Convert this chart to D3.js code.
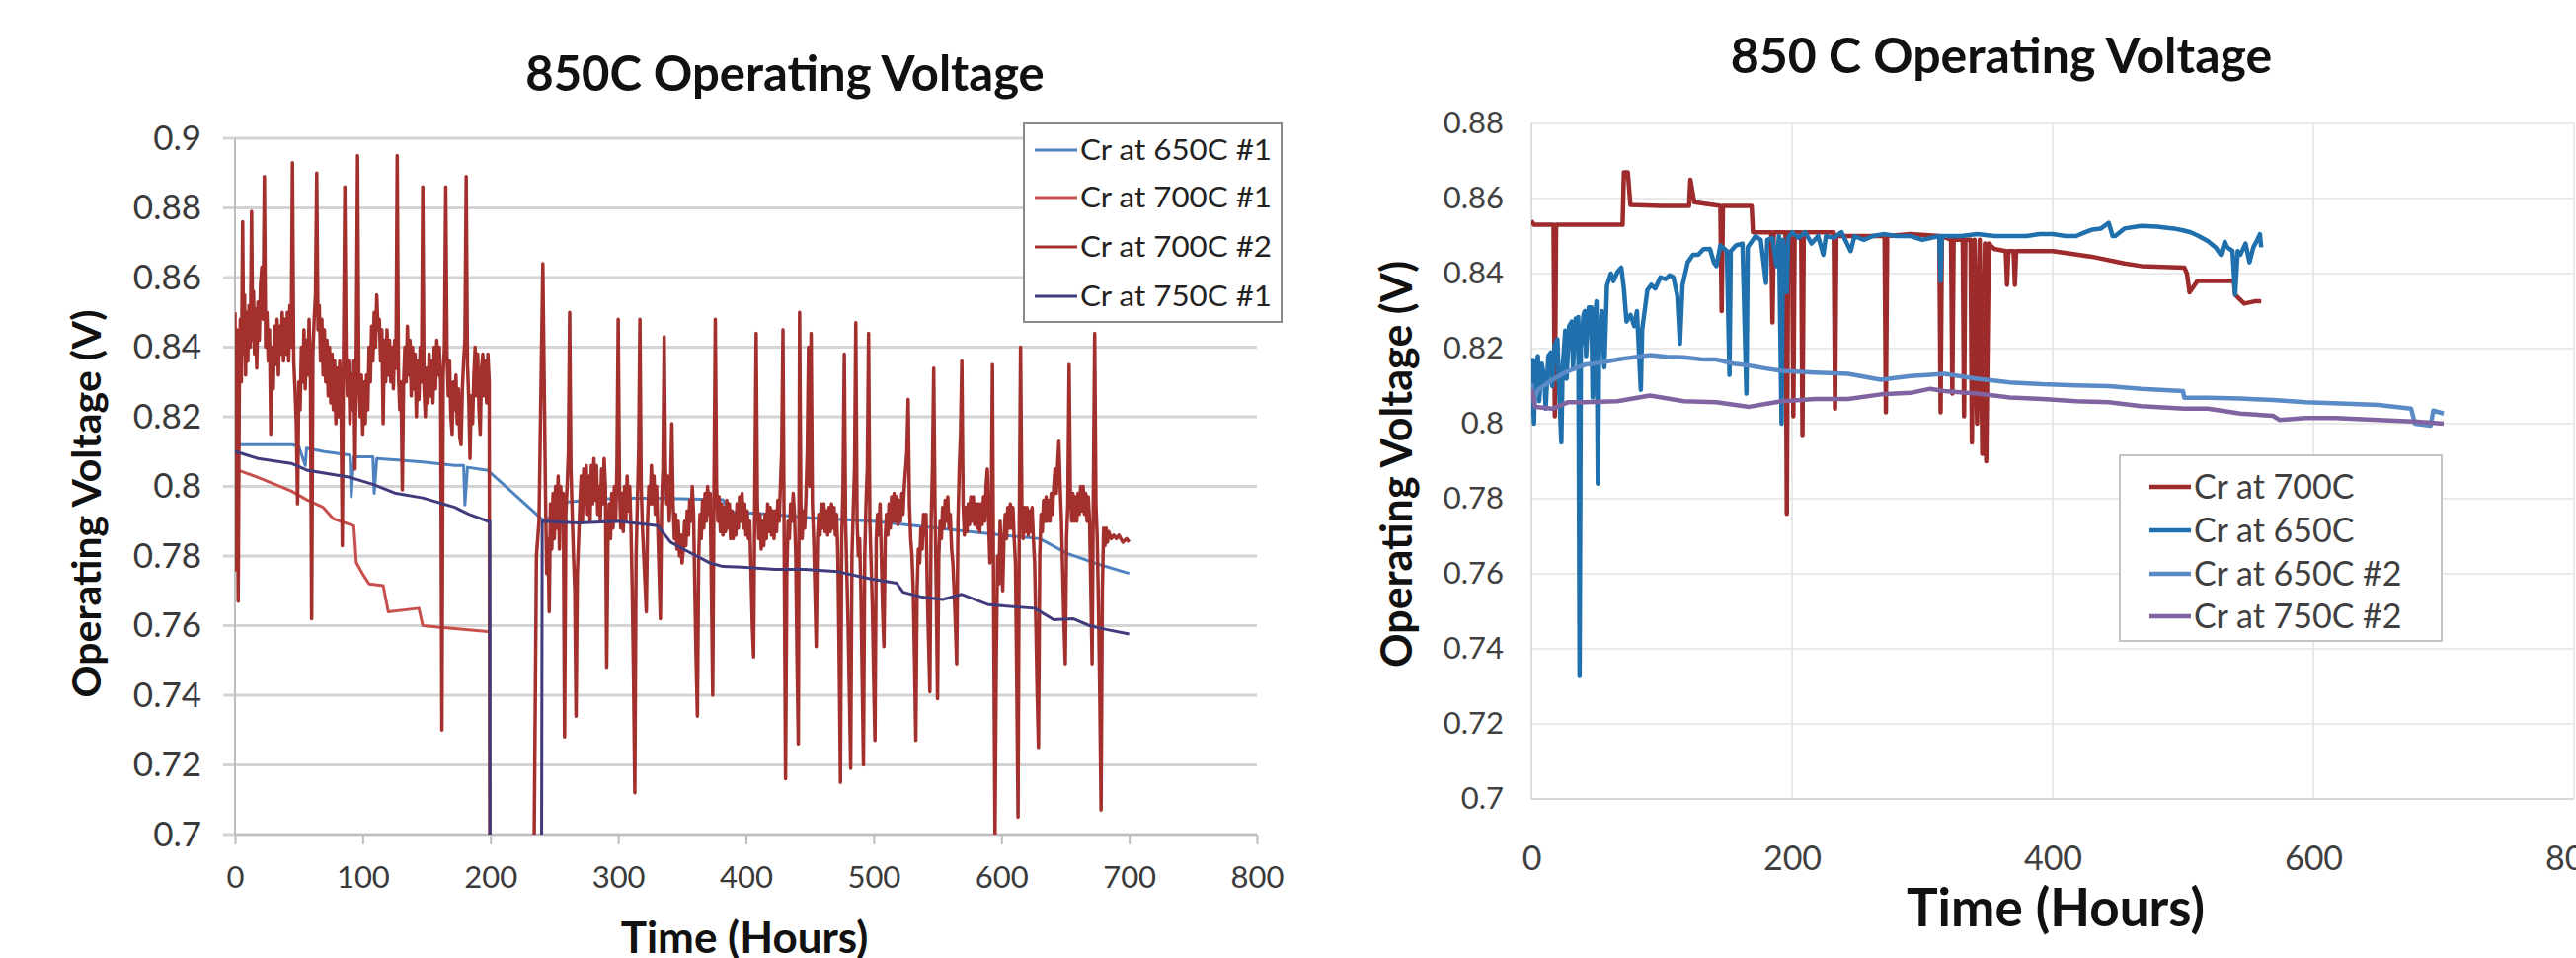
<!DOCTYPE html>
<html>
<head>
<meta charset="utf-8">
<title>850C Operating Voltage</title>
<script src="https://d3js.org/d3.v7.min.js"></script>
<style>
  body { margin: 0; background: #fff; }
  text { font-family: Lato, "Open Sans", sans-serif; }
</style>
</head>
<body>
<svg id="chart" width="2609" height="970"></svg>
<script>
// ---- data (hours, volts) ----

// left panel
var leftTitle = '850C Operating Voltage';
var leftXTicks = [0, 100, 200, 300, 400, 500, 600, 700, 800];
var leftYTicks = [0.7, 0.72, 0.74, 0.76, 0.78, 0.8, 0.82, 0.84, 0.86, 0.88, 0.9];
var leftYLabels = ['0.7', '0.72', '0.74', '0.76', '0.78', '0.8', '0.82', '0.84', '0.86', '0.88', '0.9'];
var leftNames = ['Cr at 650C #1', 'Cr at 700C #1', 'Cr at 700C #2', 'Cr at 750C #1'];

var cr650_1 = [[0,0.812],[20,0.812],[45,0.812],[50,0.8115],[55,0.806],[56,0.811],[70,0.810],[90,0.809],[91,0.797],[93,0.8085],
  [108,0.8085],[109,0.798],[111,0.808],[130,0.8075],[147,0.807],[172,0.806],[179,0.806],[180,0.7947],[182,0.8055],[198,0.8046],
  [240,0.7907],[244,0.790],[255,0.795],[260,0.7955],[300,0.7967],[340,0.7965],[382,0.7962],[387,0.7927],[420,0.792],[450,0.791],
  [500,0.790],[550,0.788],[600,0.786],[630,0.785],[640,0.783],[651,0.7808],[677,0.7775],[700,0.775]];

var cr700_1 = [[0,0.805],[3,0.8046],[18,0.8026],[44,0.7987],[57,0.796],[69,0.794],[77,0.7907],[93,0.7887],[95,0.7781],[100,0.7748],
  [105,0.772],[116,0.7715],[120,0.764],[144,0.765],[147,0.760],[159,0.7596],[198,0.7583]];

var cr700_2 = [[0,0.850],[0.8,0.776],[1.5,0.845],[2.5,0.767],[3.5,0.835],[4.2,0.848],[5,0.830],[6,0.876],[6.8,0.838],[7.5,0.855],
  [8.3,0.832],[9,0.850],[10,0.836],[11,0.852],[12,0.840],[13,0.879],[13.8,0.842],[14.5,0.856],[15.3,0.838],[16,0.851],
  [17,0.834],[18,0.853],[19,0.842],[20,0.858],[21,0.863],[22,0.848],[23,0.889],[24,0.840],[25,0.850],[26,0.836],
  [27,0.845],[28,0.815],[29,0.840],[30,0.828],[31,0.846],[32,0.835],[33,0.848],[34,0.832],[35,0.846],[36,0.838],
  [37,0.850],[38,0.836],[39,0.848],[40,0.838],[41,0.850],[42,0.836],[43,0.852],[44,0.840],[45,0.893],[46,0.836],
  [47,0.828],[48,0.818],[49,0.795],[50,0.830],[51,0.822],[52,0.840],[53,0.830],[54,0.845],[55,0.828],[56,0.842],
  [57,0.832],[58,0.848],[59,0.835],[60,0.762],[61,0.838],[62,0.848],[63,0.855],[64,0.890],[65,0.845],[66,0.852],
  [67,0.836],[68,0.848],[69,0.832],[70,0.845],[71,0.830],[72,0.842],[73,0.826],[74,0.840],[75,0.824],[76,0.838],
  [77,0.822],[78,0.836],[79,0.818],[80,0.834],[81,0.820],[82,0.836],[83,0.826],[84,0.783],[85,0.840],[86,0.886],
  [87,0.838],[88,0.826],[89,0.836],[90,0.818],[91,0.832],[92,0.822],[93,0.836],[94,0.805],[95,0.840],[96,0.895],
  [97,0.830],[98,0.820],[99,0.832],[100,0.815],[101,0.830],[102,0.818],[103,0.832],[104,0.822],[105,0.840],[106,0.830],
  [107,0.846],[108,0.836],[109,0.850],[110,0.840],[111,0.855],[112,0.845],[113,0.848],[114,0.836],[115,0.845],[116,0.818],
  [117,0.842],[118,0.830],[119,0.845],[120,0.832],[121,0.842],[122,0.830],[123,0.840],[124,0.828],[125,0.842],[126,0.834],
  [127,0.895],[128,0.832],[129,0.822],[130,0.830],[131,0.799],[132,0.830],[133,0.840],[134,0.830],[135,0.846],[136,0.832],
  [137,0.842],[138,0.826],[139,0.840],[140,0.828],[141,0.838],[142,0.820],[143,0.836],[144,0.825],[145,0.840],[146,0.830],
  [147,0.886],[148,0.828],[149,0.820],[150,0.834],[151,0.824],[152,0.838],[153,0.826],[154,0.836],[155,0.824],[156,0.840],
  [157,0.828],[158,0.842],[159,0.832],[160,0.840],[161,0.830],[162,0.730],[163,0.832],[164,0.840],[165,0.886],[166,0.838],
  [167,0.826],[168,0.836],[169,0.820],[170,0.815],[171,0.830],[172,0.822],[173,0.832],[174,0.818],[175,0.828],[176,0.814],
  [177,0.812],[178,0.828],[179,0.836],[180,0.842],[181,0.889],[182,0.835],[183,0.825],[184,0.808],[185,0.826],[186,0.818],
  [187,0.832],[188,0.840],[189,0.826],[190,0.838],[191,0.822],[192,0.815],[193,0.834],[194,0.838],[195,0.826],[196,0.836],
  [197,0.824],[198,0.838],[199,0.830],[200,0.55],
  [231,0.55],[236,0.78],[238,0.79],[241,0.864],[243,0.80],[244,0.775],[245,0.785],[246,0.764],[247,0.795],[248,0.782],
  [249,0.798],[250,0.785],[251,0.800],[252,0.788],[253,0.803],[254,0.782],[255,0.800],[256,0.790],[257,0.798],[258,0.728],
  [259,0.792],[260,0.800],[261,0.810],[262,0.850],[263,0.805],[264,0.792],[265,0.780],[266,0.770],[267,0.734],[268,0.775],
  [269,0.785],[270,0.795],[271,0.803],[272,0.790],[273,0.805],[274,0.795],[275,0.806],[276,0.792],[277,0.803],[278,0.790],
  [279,0.806],[280,0.795],[281,0.808],[282,0.796],[283,0.806],[284,0.792],[285,0.800],[286,0.790],[287,0.805],[288,0.795],
  [289,0.808],[290,0.800],[291,0.748],[292,0.785],[293,0.795],[294,0.785],[295,0.798],[296,0.788],[297,0.800],[298,0.790],
  [299,0.805],[300,0.848],[301,0.800],[302,0.788],[303,0.798],[304,0.787],[305,0.800],[306,0.790],[307,0.803],[308,0.793],
  [309,0.800],[310,0.788],[311,0.770],[312,0.745],[313,0.712],[314,0.780],[315,0.795],[316,0.810],[317,0.848],[318,0.800],
  [319,0.788],[320,0.780],[321,0.772],[322,0.764],[323,0.790],[324,0.800],[325,0.795],[326,0.806],[327,0.795],[328,0.803],
  [329,0.792],[330,0.800],[331,0.788],[332,0.775],[333,0.762],[334,0.795],[335,0.805],[336,0.843],[337,0.805],[338,0.795],
  [339,0.803],[340,0.790],[341,0.800],[342,0.818],[343,0.795],[344,0.785],[345,0.792],[346,0.782],[347,0.790],[348,0.780],
  [349,0.786],[350,0.778],[351,0.782],[352,0.790],[353,0.783],[354,0.793],[355,0.786],[356,0.796],[357,0.790],[358,0.800],
  [359,0.792],[360,0.770],[361,0.750],[362,0.734],[363,0.780],[364,0.792],[365,0.785],[366,0.796],[367,0.788],[368,0.798],
  [369,0.790],[370,0.800],[371,0.792],[372,0.798],[373,0.770],[374,0.740],[375,0.800],[376,0.848],[377,0.800],[378,0.790],
  [379,0.797],[380,0.787],[381,0.795],[382,0.786],[383,0.794],[384,0.787],[385,0.796],[386,0.788],[387,0.795],[388,0.785],
  [389,0.793],[390,0.785],[391,0.792],[392,0.786],[393,0.795],[394,0.788],[395,0.797],[396,0.790],[397,0.798],[398,0.788],
  [399,0.795],[400,0.786],[401,0.793],[402,0.785],[403,0.790],[404,0.775],[405,0.760],[406,0.751],[407,0.800],[408,0.844],
  [409,0.795],[410,0.785],[411,0.792],[412,0.782],[413,0.790],[414,0.783],[415,0.792],[416,0.785],[417,0.795],[418,0.787],
  [419,0.794],[420,0.786],[421,0.793],[422,0.785],[423,0.793],[424,0.787],[425,0.796],[426,0.790],[427,0.800],[428,0.810],
  [429,0.845],[430,0.780],[431,0.716],[432,0.775],[433,0.790],[434,0.785],[435,0.795],[436,0.790],[437,0.798],[438,0.792],
  [439,0.780],[440,0.750],[441,0.726],[442,0.850],[443,0.795],[444,0.785],[445,0.793],[446,0.788],[447,0.797],[448,0.810],
  [449,0.840],[450,0.800],[451,0.844],[452,0.795],[453,0.785],[454,0.770],[455,0.754],[456,0.785],[457,0.792],[458,0.786],
  [459,0.795],[460,0.788],[461,0.795],[462,0.787],[463,0.793],[464,0.786],[465,0.794],[466,0.787],[467,0.795],[468,0.788],
  [469,0.794],[470,0.786],[471,0.792],[472,0.780],[473,0.750],[474,0.715],[475,0.785],[476,0.800],[477,0.838],[478,0.790],
  [479,0.775],[480,0.760],[481,0.740],[482,0.719],[483,0.780],[484,0.793],[485,0.805],[486,0.847],[487,0.790],[488,0.780],
  [489,0.785],[490,0.770],[491,0.745],[492,0.720],[493,0.780],[494,0.795],[495,0.805],[496,0.844],[497,0.790],[498,0.778],
  [499,0.765],[500,0.745],[501,0.727],[502,0.785],[503,0.792],[504,0.786],[505,0.795],[506,0.780],[507,0.765],[508,0.754],
  [509,0.785],[510,0.792],[511,0.786],[512,0.795],[513,0.788],[514,0.797],[515,0.790],[516,0.798],[517,0.790],[518,0.797],
  [519,0.789],[520,0.796],[521,0.790],[522,0.798],[523,0.792],[524,0.800],[525,0.805],[526,0.810],[527,0.825],[528,0.795],
  [529,0.785],[530,0.780],[531,0.770],[532,0.750],[533,0.727],[534,0.770],[535,0.782],[536,0.778],[537,0.788],[538,0.782],
  [539,0.792],[540,0.786],[541,0.792],[542,0.770],[543,0.755],[544,0.741],[545,0.790],[546,0.805],[547,0.834],[548,0.795],
  [549,0.770],[550,0.739],[551,0.780],[552,0.790],[553,0.785],[554,0.794],[555,0.788],[556,0.796],[557,0.790],[558,0.797],
  [559,0.788],[560,0.792],[561,0.782],[562,0.778],[563,0.770],[564,0.760],[565,0.749],[566,0.790],[567,0.805],[568,0.815],
  [569,0.836],[570,0.795],[571,0.786],[572,0.794],[573,0.787],[574,0.795],[575,0.789],[576,0.797],[577,0.790],[578,0.797],
  [579,0.789],[580,0.795],[581,0.788],[582,0.795],[583,0.787],[584,0.795],[585,0.789],[586,0.797],[587,0.790],[588,0.800],
  [589,0.805],[590,0.790],[591,0.778],[592,0.790],[593,0.835],[594,0.760],[595,0.700],[596,0.750],[597,0.780],[598,0.772],
  [599,0.790],[600,0.780],[601,0.770],[602,0.785],[603,0.792],[604,0.785],[605,0.794],[606,0.788],[607,0.795],[608,0.788],
  [609,0.794],[610,0.785],[611,0.778],[612,0.745],[613,0.705],[614,0.790],[615,0.840],[616,0.795],[617,0.785],[618,0.794],
  [619,0.787],[620,0.794],[621,0.786],[622,0.793],[623,0.787],[624,0.794],[625,0.785],[626,0.778],[627,0.760],[628,0.740],
  [629,0.725],[630,0.780],[631,0.792],[632,0.787],[633,0.796],[634,0.790],[635,0.797],[636,0.790],[637,0.796],[638,0.790],
  [639,0.798],[640,0.792],[641,0.800],[642,0.805],[643,0.798],[644,0.806],[645,0.813],[646,0.800],[647,0.790],[648,0.775],
  [649,0.760],[650,0.749],[651,0.785],[652,0.795],[653,0.835],[654,0.798],[655,0.790],[656,0.798],[657,0.790],[658,0.797],
  [659,0.790],[660,0.798],[661,0.792],[662,0.800],[663,0.793],[664,0.800],[665,0.792],[666,0.798],[667,0.790],[668,0.797],
  [669,0.790],[670,0.770],[671,0.749],[672,0.800],[673,0.844],[674,0.795],[675,0.785],[676,0.765],[677,0.740],[678,0.707],
  [679,0.770],[680,0.788],[681,0.783],[682,0.788],[683,0.784],[684,0.787],[686,0.785],[688,0.786],[690,0.785],[692,0.786],
  [695,0.784],[698,0.785],[700,0.784]];

var cr750_1 = [[0,0.810],[5,0.8095],[18,0.808],[44,0.8066],[57,0.8046],[90,0.8026],[108,0.8006],[126,0.798],[147,0.7967],[172,0.794],
  [183,0.792],[198,0.790],[199.5,0.790],[200,0.5],[239,0.5],[240.5,0.790],[269,0.7895],[300,0.790],[331,0.7887],[341,0.784],
  [351,0.782],[372,0.778],[382,0.777],[397,0.7768],[423,0.7762],[446,0.7762],[472,0.7755],[497,0.7735],[518,0.7722],[523,0.7696],
  [538,0.7682],[554,0.7675],[569,0.769],[590,0.766],[626,0.765],[641,0.7617],[656,0.762],[669,0.760],[682,0.7589],[700,0.7576]];

// right panel
var rightTitle = '850 C Operating Voltage';
var rightXTicks = [0, 200, 400, 600, 800];
var rightYTicks = [0.7, 0.72, 0.74, 0.76, 0.78, 0.8, 0.82, 0.84, 0.86, 0.88];
var rightYLabels = ['0.7', '0.72', '0.74', '0.76', '0.78', '0.8', '0.82', '0.84', '0.86', '0.88'];
var rightNames = ['Cr at 700C', 'Cr at 650C', 'Cr at 650C #2', 'Cr at 750C #2'];

var r700 = [[0,0.8541],[2,0.853],[17,0.853],[18,0.802],[19,0.853],[70,0.853],[71,0.867],[74,0.867],[76,0.8583],[100,0.858],
  [121,0.858],[122,0.865],[125,0.859],[145,0.858],[146,0.830],[147,0.858],[169,0.858],[170,0.851],[184,0.851],[185,0.827],
  [186,0.851],[195,0.851],[196,0.776],[197,0.851],[200,0.851],[201,0.802],[202,0.851],[207,0.851],[208,0.797],[209,0.851],
  [232,0.851],[233,0.804],[234,0.850],[271,0.850],[272,0.803],[273,0.850],[291,0.8505],[313,0.850],[314,0.803],[315,0.850],
  [322,0.849],[323,0.808],[324,0.849],[331,0.849],[332,0.802],[333,0.849],[337,0.849],[338,0.795],[340,0.849],[342,0.800],
  [344,0.849],[346,0.792],[348,0.848],[349,0.790],[351,0.848],[355,0.8466],[364,0.846],[365,0.837],[366,0.846],[370,0.846],
  [371,0.837],[372,0.846],[392,0.846],[400,0.846],[430,0.8445],[455,0.8427],[468,0.842],[501,0.8416],[503,0.840],[505,0.835],
  [511,0.838],[539,0.838],[540,0.8344],[547,0.832],[555,0.8326],[560,0.8326]];

var r650 = [[0,0.802],[1,0.817],[2,0.800],[3,0.815],[5,0.818],[6,0.806],[8,0.816],[10,0.812],[11,0.804],[13,0.818],
  [15,0.819],[16,0.810],[18,0.821],[20,0.8225],[21,0.812],[23,0.795],[24,0.815],[26,0.8248],[27,0.812],[29,0.826],
  [31,0.8272],[32,0.815],[34,0.828],[35,0.820],[36,0.8284],[37,0.733],[38,0.820],[40,0.829],[41,0.830],[42,0.818],
  [44,0.831],[46,0.831],[47,0.807],[48,0.826],[50,0.8326],[51,0.784],[52,0.820],[54,0.830],[56,0.815],[58,0.8368],
  [61,0.840],[63,0.838],[66,0.8404],[69,0.8416],[71,0.836],[73,0.8272],[76,0.829],[79,0.826],[81,0.830],[84,0.809],
  [85,0.825],[89,0.8356],[92,0.837],[95,0.836],[99,0.839],[103,0.8385],[106,0.8395],[109,0.839],[112,0.834],[114,0.8213],
  [116,0.837],[120,0.843],[124,0.845],[128,0.845],[132,0.8465],[137,0.8466],[140,0.843],[142,0.842],[145,0.8475],[150,0.846],
  [152,0.813],[153,0.846],[157,0.8475],[162,0.848],[165,0.808],[166,0.847],[170,0.849],[172,0.850],[176,0.849],[180,0.8375],
  [181,0.849],[185,0.8495],[188,0.842],[190,0.850],[192,0.800],[193,0.849],[196,0.835],[197,0.8495],[200,0.851],[205,0.8495],
  [210,0.851],[215,0.848],[220,0.850],[224,0.845],[226,0.850],[232,0.8495],[238,0.851],[245,0.846],[248,0.850],[255,0.849],
  [262,0.850],[270,0.8505],[280,0.850],[291,0.850],[300,0.849],[313,0.850],[314,0.838],[315,0.850],[330,0.850],[342,0.8505],
  [355,0.850],[367,0.850],[380,0.850],[390,0.8505],[400,0.8505],[410,0.850],[418,0.850],[425,0.851],[430,0.8517],[437,0.852],
  [443,0.8535],[446,0.850],[448,0.850],[455,0.852],[468,0.8527],[480,0.8525],[493,0.852],[500,0.8515],[506,0.851],[512,0.850],
  [519,0.8487],[525,0.847],[529,0.845],[532,0.8485],[534,0.847],[538,0.846],[540,0.8344],[542,0.846],[544,0.845],[548,0.848],
  [551,0.843],[554,0.847],[557,0.849],[559,0.8505],[560,0.847]];

var r650_2 = [[0,0.8107],[2,0.806],[5,0.809],[16,0.8117],[28,0.814],[41,0.8157],[54,0.8163],[66,0.8171],[80,0.8178],[91,0.8183],
  [104,0.8178],[117,0.8177],[130,0.8172],[142,0.8171],[155,0.816],[167,0.8155],[180,0.8147],[192,0.8141],[218,0.8136],[243,0.8133],
  [268,0.8117],[291,0.8127],[306,0.813],[317,0.8133],[342,0.812],[367,0.811],[392,0.8105],[418,0.8102],[443,0.810],[468,0.8093],
  [500,0.8087],[501,0.8069],[519,0.8069],[544,0.8067],[569,0.8063],[594,0.8057],[620,0.8054],[650,0.805],[675,0.804],[678,0.800],
  [690,0.7995],[692,0.8035],[700,0.8027]];

var r750_2 = [[0,0.8093],[3,0.8045],[16,0.804],[28,0.8057],[41,0.8057],[66,0.806],[91,0.8075],[117,0.806],[142,0.8057],[167,0.8045],
  [192,0.806],[218,0.8066],[243,0.8066],[268,0.8078],[291,0.8082],[306,0.8093],[317,0.8087],[342,0.808],[367,0.807],[392,0.8066],
  [418,0.806],[443,0.8057],[468,0.8047],[501,0.804],[519,0.804],[544,0.8027],[569,0.8021],[574,0.801],[594,0.8015],[617,0.8015],
  [650,0.801],[680,0.8005],[700,0.800]];

var svg = d3.select('#chart');

function drawPanel(o) {
  var g = svg.append('g');
  var x = d3.scaleLinear().domain([0, 800]).range([o.left, o.right]);
  var y = d3.scaleLinear().domain([o.yTicks[0], o.yTicks[o.yTicks.length - 1]]).range([o.bottom, o.top]);

  // horizontal grid
  g.append('g').selectAll('line').data(o.yTicks).enter().append('line')
    .attr('x1', o.left - o.yTickOut).attr('x2', o.right)
    .attr('y1', function(d){ return y(d); }).attr('y2', function(d){ return y(d); })
    .style('stroke', o.gridColor).style('stroke-width', o.gridWidth);

  if (o.vGrid) {
    g.append('g').selectAll('line').data(o.xTicks.slice(1)).enter().append('line')
      .attr('x1', function(d){ return x(d); }).attr('x2', function(d){ return x(d); })
      .attr('y1', o.top).attr('y2', o.bottom)
      .style('stroke', o.gridColor).style('stroke-width', o.gridWidth);
  }

  // axes
  var xa = g.append('g').attr('transform', 'translate(0,' + o.bottom + ')')
    .call(d3.axisBottom(x).tickValues(o.xTicks).tickSize(o.xTickSize).tickPadding(o.xPad).tickFormat(d3.format('d')));
  var ya = g.append('g').attr('transform', 'translate(' + o.left + ',0)')
    .call(d3.axisLeft(y).tickValues(o.yTicks).tickSize(0).tickPadding(o.yPad)
      .tickFormat(function(d, i){ return o.yLabels[i]; }));
  [xa, ya].forEach(function(a){
    a.select('.domain').style('stroke', o.axisColor).style('stroke-width', o.axisWidth);
    a.selectAll('.tick line').style('stroke', o.axisColor).style('stroke-width', o.axisWidth);
    a.selectAll('.tick text').style('fill', o.tickColor).style('font-family', 'Lato, sans-serif');
  });
  xa.selectAll('.tick text').style('font-size', o.xTickFont + 'px');
  ya.selectAll('.tick text').style('font-size', o.yTickFont + 'px');
  ya.select('.domain').attr('d', 'M0,' + o.top + 'V' + o.bottom);
  xa.select('.domain').attr('d', 'M' + o.left + ',0H' + o.right);

  // series
  var clipId = 'clip' + o.id;
  svg.append('clipPath').attr('id', clipId).append('rect')
    .attr('x', o.left).attr('y', o.top - 20).attr('width', o.right - o.left).attr('height', o.bottom - o.top + 20);
  var line = d3.line().x(function(d){ return x(d[0]); }).y(function(d){ return y(d[1]); });
  g.append('g').attr('clip-path', 'url(#' + clipId + ')')
    .selectAll('path').data(o.series).enter().append('path')
    .attr('d', function(s){ return line(s.values); })
    .style('fill', 'none').style('stroke', function(s){ return s.color; })
    .style('stroke-width', function(s){ return s.width || o.lineWidth; }).style('stroke-linejoin', 'round');

  // titles
  g.append('text').attr('x', o.titleX).attr('y', o.titleY).attr('text-anchor', 'middle')
    .style('font-size', o.titleFont + 'px').style('font-weight', 'bold').style('fill', '#111')
    .text(o.title);
  g.append('text').attr('x', o.xTitleX).attr('y', o.xTitleY).attr('text-anchor', 'middle')
    .style('font-size', o.xTitleFont + 'px').style('font-weight', 'bold').style('fill', '#111')
    .text('Time (Hours)');
  g.append('text').attr('transform', 'translate(' + o.yTitleX + ',' + o.yTitleY + ') rotate(-90)')
    .attr('text-anchor', 'middle')
    .style('font-size', o.yTitleFont + 'px').style('font-weight', 'bold').style('fill', '#111')
    .text('Operating Voltage (V)');

  // legend
  var L = o.legend;
  var lg = g.append('g');
  lg.append('rect').attr('x', L.x).attr('y', L.y).attr('width', L.w).attr('height', L.h)
    .style('fill', '#fff').style('stroke', L.stroke).style('stroke-width', 2);
  var items = lg.selectAll('g.item').data(o.series).enter().append('g')
    .attr('transform', function(s, i){ return 'translate(0,' + L.rows[i] + ')'; });
  items.append('line').attr('x1', L.lineX1).attr('x2', L.lineX2)
    .style('stroke', function(s){ return s.color; }).style('stroke-width', L.lineWidth);
  var t = items.append('text').attr('x', L.textX).attr('dy', '0.35em')
    .style('font-size', L.font + 'px').style('fill', L.textColor)
    .text(function(s){ return s.name; });
  if (L.textLength) t.attr('textLength', L.textLength).attr('lengthAdjust', 'spacingAndGlyphs');
}

drawPanel({
  id: 'L', left: 238, right: 1273, top: 140, bottom: 845,
  xTicks: leftXTicks, yTicks: leftYTicks, yLabels: leftYLabels,
  gridColor: '#d4d4d4', gridWidth: 3, vGrid: false,
  axisColor: '#bdbdbd', axisWidth: 2, xTickSize: 10, xPad: 22, yPad: 34, yTickOut: 12,
  xTickFont: 31, yTickFont: 35, tickColor: '#3a3a3a',
  lineWidth: 3,
  series: [
    { name: leftNames[0], values: cr650_1, color: '#4f83c0' },
    { name: leftNames[1], values: cr700_1, color: '#c8504c' },
    { name: leftNames[2], values: cr700_2, color: '#a3302d', width: 3.5 },
    { name: leftNames[3], values: cr750_1, color: '#403c7c' }
  ],
  title: leftTitle, titleX: 795, titleY: 92, titleFont: 49,
  xTitleX: 754, xTitleY: 965, xTitleFont: 44,
  yTitleX: 102, yTitleY: 510, yTitleFont: 41,
  legend: { x: 1037, y: 125, w: 261, h: 201, stroke: '#8a8a8a', rows: [152, 200, 250, 300],
    lineX1: 1048, lineX2: 1091, lineWidth: 3, textX: 1094, font: 28, textColor: '#222', textLength: 194 }
});

drawPanel({
  id: 'R', left: 1551, right: 2607, top: 125, bottom: 809,
  xTicks: rightXTicks, yTicks: rightYTicks, yLabels: rightYLabels,
  gridColor: '#e3e3e3', gridWidth: 1.5, vGrid: true,
  axisColor: '#d0d0d0', axisWidth: 1.5, xTickSize: 0, xPad: 48, yPad: 28, yTickOut: 0,
  xTickFont: 34, yTickFont: 31, tickColor: '#404040',
  lineWidth: 4.5,
  series: [
    { name: rightNames[0], values: r700, color: '#9e2b2c' },
    { name: rightNames[1], values: r650, color: '#1f70ac' },
    { name: rightNames[2], values: r650_2, color: '#5b8bc6' },
    { name: rightNames[3], values: r750_2, color: '#8064a2' }
  ],
  title: rightTitle, titleX: 2027, titleY: 74, titleFont: 50,
  xTitleX: 2082, xTitleY: 938, xTitleFont: 53,
  yTitleX: 1430, yTitleY: 470, yTitleFont: 43,
  legend: { x: 2147, y: 461, w: 326, h: 188, stroke: '#c4c4c4', rows: [493, 537, 581, 624],
    lineX1: 2177, lineX2: 2219, lineWidth: 4.5, textX: 2222, font: 34, textColor: '#404040', textLength: null }
});
</script>
</body>
</html>
